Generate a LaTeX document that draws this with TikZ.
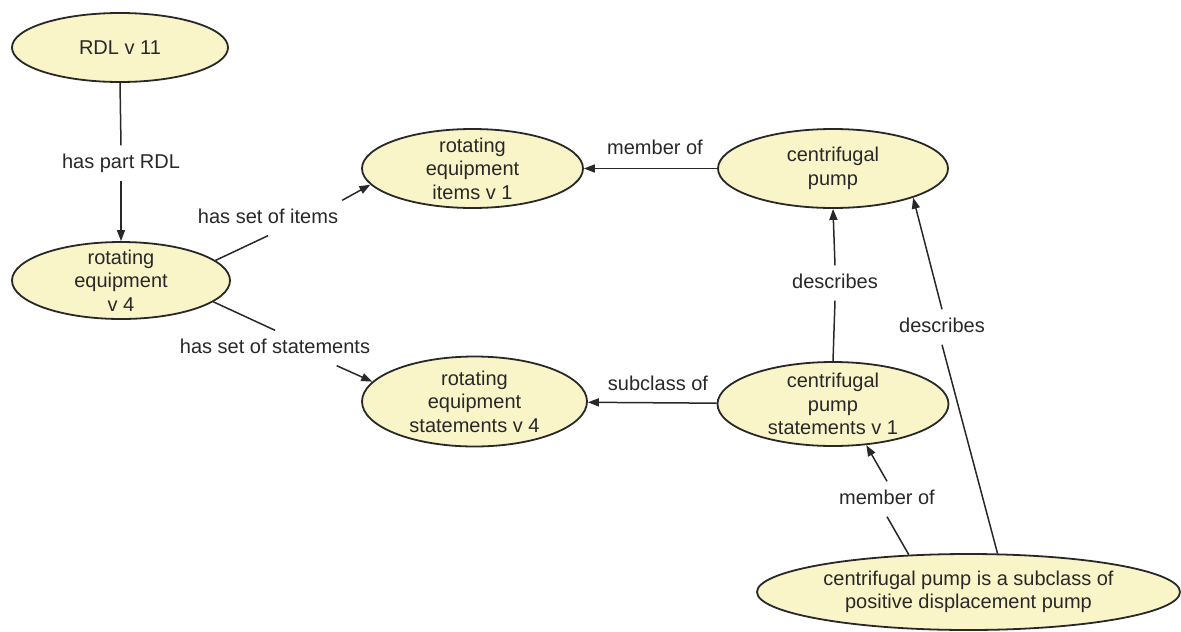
\documentclass[tikz,border=0pt]{standalone}
\usepackage{fontspec}
\setmainfont{Liberation Sans}
\usetikzlibrary{arrows.meta,shapes.geometric}
\definecolor{conceptfill}{RGB}{249,245,201}
\definecolor{ink}{RGB}{40,40,40}
\begin{document}
\begin{tikzpicture}[x=1pt,y=-1pt,
  concept/.style={ellipse, draw=ink, line width=1.8pt, fill=conceptfill,
    inner sep=0pt, inner ysep=-6pt, align=center,
    font=\fontsize{20}{23.5}\selectfont, text=ink},
  linkword/.style={inner xsep=4pt, inner ysep=8pt, text height=15pt, text depth=4pt,
    font=\fontsize{20}{23.5}\selectfont, text=ink},
  link/.style={draw=ink, line width=1.5pt},
  linkarrow/.style={link, -{Triangle[length=11pt,width=8pt]}},
]
\fill[white] (0,0) rectangle (1181,632);
\useasboundingbox (0,0) rectangle (1181,632);

% concepts
\node[concept, minimum width=216pt, minimum height=69pt] (rdl) at (120,47.5) {RDL v 11};
\node[concept, minimum width=218pt, minimum height=77pt] (req) at (121,280.5) {rotating\\equipment\\v 4};
\node[concept, minimum width=221pt, minimum height=79pt] (items) at (472.5,168.5) {rotating\\equipment\\items v 1};
\node[concept, minimum width=230pt, minimum height=79pt] (cp) at (833,168.5) {centrifugal\\pump};
\node[concept, minimum width=225pt, minimum height=90pt] (reqs) at (474.5,401.5) {rotating\\equipment\\statements v 4};
\node[concept, minimum width=231pt, minimum height=84pt] (cps) at (833,404) {centrifugal\\pump\\statements v 1};
\node[concept, minimum width=423pt, minimum height=76pt] (sub) at (968.5,592) {centrifugal pump is a subclass of\\positive displacement pump};

% linking phrases
\node[linkword] (l1) at (121,163) {has part RDL};
\node[linkword] (l2) at (268,218) {has set of items};
\node[linkword] (l3) at (275,348) {has set of statements};
\node[linkword] (lmem) at (655,148.5) {member of};
\node[linkword] (lsub) at (658,384.5) {subclass of};
\node[linkword] (l5) at (835,283) {describes};
\node[linkword] (l6) at (942,327) {describes};
\node[linkword] (l7) at (887,499) {member of};

% connectors
\draw[link] (rdl.south) -- (l1.north);
\draw[linkarrow] (l1.south) -- (req.north);
\draw[link] (req.12) -- (l2.south);
\draw[linkarrow] (l2.north east) -- (items.189);
\draw[link] (req.-13) -- (l3.north);
\draw[linkarrow] (l3.-16) -- (reqs.169);
\draw[linkarrow] (cp) -- (items);
\draw[linkarrow] (cps) -- (reqs);
\draw[link] (cps.north) -- (l5.south);
\draw[linkarrow] (l5.north) -- (cp.south);
\draw[link] (sub.53) -- (l6.south);
\draw[linkarrow] (l6.north) -- (cp.-20);
\draw[link] (sub.148) -- (l7.south);
\draw[linkarrow] (l7.north) -- (cps.-51);
\end{tikzpicture}
\end{document}
